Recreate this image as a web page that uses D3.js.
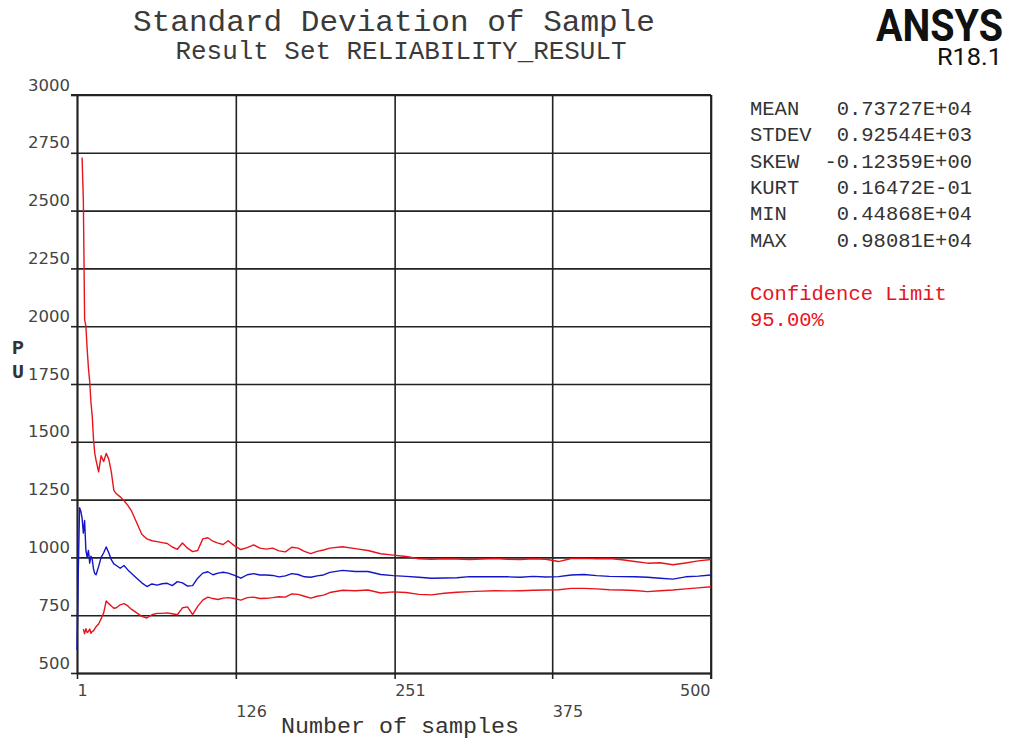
<!DOCTYPE html>
<html>
<head>
<meta charset="utf-8">
<script src="https://cdn.jsdelivr.net/npm/d3@7"></script>
<style>
  body { margin: 0; background: #fff; }
  svg { display: block; }
</style>
</head>
<body>
<svg id="chart" width="1009" height="740"></svg>
<script>
// Sample counts at which the running statistics are plotted
const sampleN = [
  1,2,3,4,5,6,7,8,9,10,11,12,13,14,15,16,
  18,20,22,24,26,28,30,32,
  35,38,41,44,
  48,52,56,60,64,68,72,76,80,84,88,92,96,100,104,108,112,116,120,
  125,130,135,140,145,150,155,160,165,170,175,180,185,190,195,200,
  210,220,230,240,250,260,270,280,290,300,
  310,320,330,340,350,360,370,380,390,400,
  410,420,430,440,450,460,470,480,490,500
];

// Running standard deviation of the sample
const stdevValues = [
  600,930,1215,1200,1170,1105,1160,1030,1000,1030,975,1005,990,950,930,925,
  960,1000,1020,1045,1020,990,972,965,
  953,965,946,930,
  910,890,874,885,880,886,888,878,895,890,876,878,910,932,938,925,932,936,932,
  922,910,925,930,924,924,922,916,920,930,926,916,914,920,924,935,
  944,939,939,926,921,918,914,910,911,912,
  917,916,917,916,914,918,915,917,924,926,
  921,918,917,916,914,910,906,916,919,924
];

// Upper 95% confidence limit
const upperLimit = [
  null,null,null,null,2730,2545,2030,2000,1900,1820,1760,1670,1610,1510,1450,1420,
  1370,1440,1415,1450,1425,1370,1290,1275,
  1262,1245,1225,1200,
  1150,1100,1080,1072,1068,1064,1060,1045,1035,1062,1040,1025,1030,1080,1085,1070,1062,1056,1072,
  1050,1034,1042,1054,1040,1036,1040,1028,1024,1044,1040,1026,1016,1026,1032,1040,
  1046,1038,1030,1016,1010,1004,994,992,994,993,
  991,993,995,992,991,994,992,982,995,996,
  994,995,990,982,975,977,968,976,985,991
];

// Lower 95% confidence limit
const lowerLimit = [
  null,null,null,null,null,690,670,692,675,680,690,672,680,682,692,700,
  712,735,760,812,800,790,780,782,
  795,800,790,775,
  760,745,738,752,758,758,760,756,752,782,786,752,788,815,828,822,818,824,826,
  822,815,826,828,822,823,826,830,828,842,840,832,824,832,837,848,
  858,856,859,846,851,848,840,838,845,849,
  852,854,856,855,856,858,859,860,866,866,
  864,860,859,857,852,856,859,864,868,873
];

const xTickValues = [1, 126, 251, 375, 500];
const yTickValues = [500, 750, 1000, 1250, 1500, 1750, 2000, 2250, 2500, 2750, 3000];

const statLabels = ["MEAN", "STDEV", "SKEW", "KURT", "MIN", "MAX"];
const statValues = ["0.73727E+04", "0.92544E+03", "-0.12359E+00", "0.16472E-01", "0.44868E+04", "0.98081E+04"];

const titleText = "Standard Deviation of Sample";
const subtitleText = "Result Set RELIABILITY_RESULT";
const xAxisTitle = "Number of samples";
const yAxisTitle = ["P", "U"];
const confidenceText = ["Confidence Limit", "95.00%"];

// ---------------------------------------------------------------
const mono = "'Liberation Mono', 'Courier New', 'DejaVu Sans Mono', monospace";
const sans = "'DejaVu Sans', Verdana, sans-serif";
const RED = "#e8141c";
const BLUE = "#1414c8";
const GRID = "#222";

const svg = d3.select("#chart");
const plot = { left: 77, right: 711, top: 95, bottom: 673 };

const x = d3.scaleLinear().domain([1, 500]).range([plot.left, plot.right]);
const y = d3.scaleLinear().domain([500, 3000]).range([plot.bottom, plot.top]);

// Grid lines (drawn with axes, labels suppressed)
const gridY = svg.append("g")
  .attr("transform", `translate(${plot.left},0)`)
  .call(d3.axisLeft(y).tickValues(yTickValues).tickSize(-(plot.right - plot.left)).tickFormat(""));
const gridX = svg.append("g")
  .attr("transform", `translate(0,${plot.bottom})`)
  .call(d3.axisBottom(x).tickValues(xTickValues).tickSize(-(plot.bottom - plot.top)).tickFormat(""));
[gridY, gridX].forEach(g => {
  g.select(".domain").remove();
  g.selectAll("line").attr("stroke", GRID).attr("stroke-width", 1.6);
});

// Outward tick marks and labels
const yAxis = svg.append("g")
  .attr("transform", `translate(${plot.left},0)`)
  .call(d3.axisLeft(y).tickValues(yTickValues).tickSize(6).tickSizeOuter(0).tickFormat(d3.format("d")));
yAxis.select(".domain").attr("stroke", GRID).attr("stroke-width", 1.8);
yAxis.selectAll("line").attr("stroke", GRID).attr("stroke-width", 1.6);
yAxis.selectAll("text")
  .attr("x", -7).attr("dy", null).attr("y", -5)
  .attr("font-family", sans).attr("font-size", 16.5).attr("fill", "#444")
  .attr("text-anchor", "end");

const xAxis = svg.append("g")
  .attr("transform", `translate(0,${plot.bottom})`)
  .call(d3.axisBottom(x).tickValues(xTickValues).tickSize(6).tickSizeOuter(0).tickFormat(d3.format("d")));
xAxis.select(".domain").attr("stroke", GRID).attr("stroke-width", 1.8);
xAxis.selectAll("line").attr("stroke", GRID).attr("stroke-width", 1.6);
xAxis.selectAll("text")
  .attr("dy", null)
  .attr("y", (d, i) => i % 2 === 0 ? 23 : 44)
  .attr("text-anchor", (d, i) => i === xTickValues.length - 1 ? "end" : "start")
  .attr("x", (d, i) => i === xTickValues.length - 1 ? -1 : 0)
  .attr("font-family", sans).attr("font-size", 16).attr("fill", "#444");

// Right and top frame
svg.append("line").attr("x1", plot.right).attr("x2", plot.right)
  .attr("y1", plot.top).attr("y2", plot.bottom + 6).attr("stroke", GRID).attr("stroke-width", 1.8);
svg.append("line").attr("x1", plot.left - 6).attr("x2", plot.right)
  .attr("y1", plot.top).attr("y2", plot.top).attr("stroke", GRID).attr("stroke-width", 1.8);

// Series
const line = d3.line()
  .defined(d => d[1] !== null)
  .x(d => x(d[0]))
  .y(d => y(d[1]));

const series = [
  { values: upperLimit, color: RED },
  { values: lowerLimit, color: RED },
  { values: stdevValues, color: BLUE }
];
svg.append("g").selectAll("path")
  .data(series)
  .join("path")
  .attr("fill", "none")
  .attr("stroke", d => d.color)
  .attr("stroke-width", 1.4)
  .attr("stroke-linejoin", "round")
  .attr("d", d => line(sampleN.map((n, i) => [n, d.values[i]])));

// Titles
svg.append("text").attr("x", 394).attr("y", 31)
  .attr("text-anchor", "middle").attr("font-family", mono).attr("font-size", 30)
  .attr("fill", "#3a3a3a").attr("textLength", 522).attr("lengthAdjust", "spacingAndGlyphs")
  .text(titleText);
svg.append("text").attr("x", 401).attr("y", 59)
  .attr("text-anchor", "middle").attr("font-family", mono).attr("font-size", 25)
  .attr("fill", "#3a3a3a").attr("textLength", 451).attr("lengthAdjust", "spacingAndGlyphs")
  .text(subtitleText);

svg.append("text").attr("x", 400).attr("y", 733)
  .attr("text-anchor", "middle").attr("font-family", mono).attr("font-size", 22)
  .attr("fill", "#333").attr("textLength", 238).attr("lengthAdjust", "spacingAndGlyphs")
  .text(xAxisTitle);

svg.append("g").selectAll("text")
  .data(yAxisTitle)
  .join("text")
  .attr("x", 12).attr("y", (d, i) => 354 + i * 24)
  .attr("font-family", mono).attr("font-size", 20).attr("font-weight", "bold").attr("fill", "#333")
  .text(d => d);

// Logo
svg.append("text").attr("x", 1003).attr("y", 41)
  .attr("text-anchor", "end").attr("font-family", "Roboto, 'Liberation Sans', sans-serif")
  .attr("font-size", 45).attr("font-weight", "bold").attr("fill", "#111")
  .attr("textLength", 127).attr("lengthAdjust", "spacingAndGlyphs")
  .text("ANSYS");
svg.append("text").attr("x", 1002).attr("y", 65)
  .attr("text-anchor", "end").attr("font-family", "Roboto, 'Liberation Sans', sans-serif")
  .attr("font-size", 24).attr("fill", "#111")
  .attr("textLength", 65).attr("lengthAdjust", "spacingAndGlyphs")
  .text("R18.1");

// Statistics block
const stats = svg.append("g").attr("font-family", mono).attr("font-size", 20.5).attr("fill", "#333");
stats.selectAll("text.lbl")
  .data(statLabels)
  .join("text").attr("class", "lbl")
  .attr("x", 750).attr("y", (d, i) => 115 + i * 26.3)
  .text(d => d);
stats.selectAll("text.val")
  .data(statValues)
  .join("text").attr("class", "val")
  .attr("x", 972).attr("y", (d, i) => 115 + i * 26.3)
  .attr("text-anchor", "end")
  .text(d => d);

svg.append("g").selectAll("text")
  .data(confidenceText)
  .join("text")
  .attr("x", 750).attr("y", (d, i) => 300 + i * 25.5)
  .attr("font-family", mono).attr("font-size", 20.5).attr("fill", RED)
  .text(d => d);
</script>
</body>
</html>
